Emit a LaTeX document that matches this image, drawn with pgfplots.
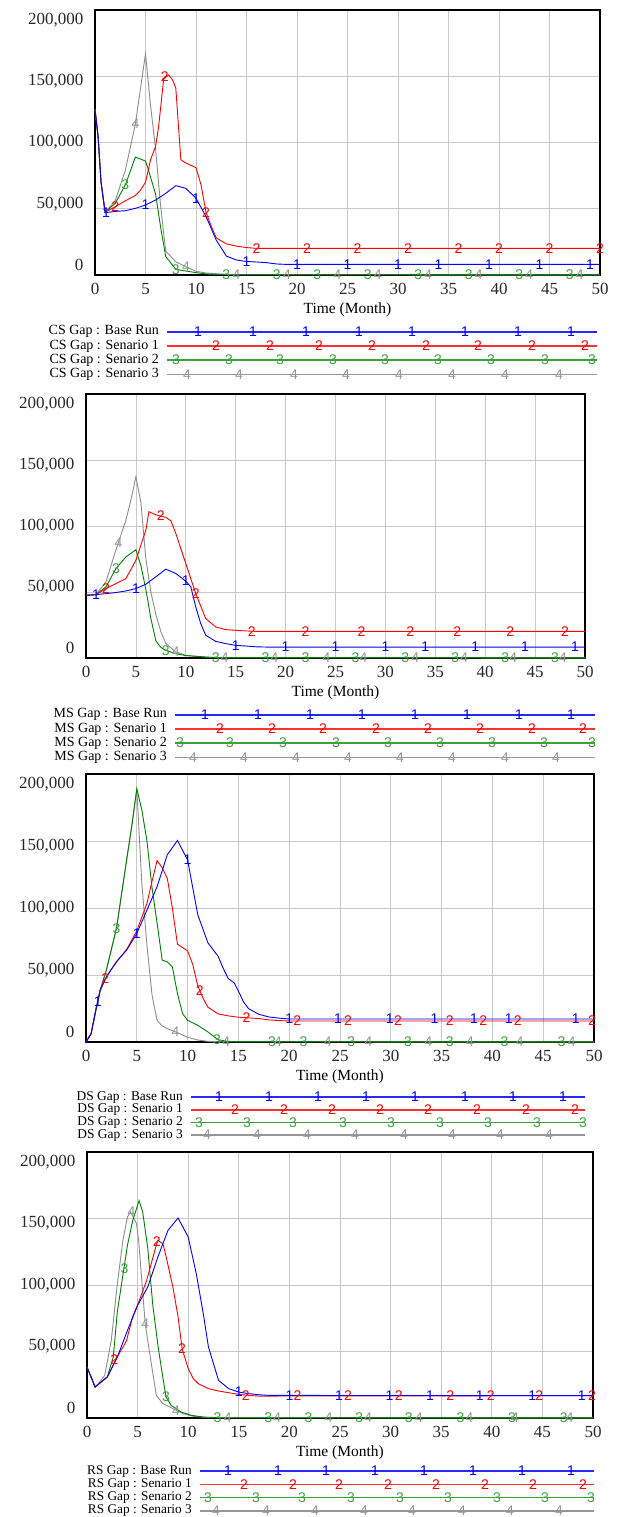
\documentclass[border=0pt]{standalone}
\usepackage{fontspec}
\setmainfont{Liberation Serif}
\newfontfamily\mkfont{Liberation Sans}
\usepackage{pgfplots}
\pgfplotsset{compat=1.18}
\usetikzlibrary{plotmarks}
\definecolor{vblue}{RGB}{0,0,255}
\definecolor{vred}{RGB}{255,0,0}
\definecolor{vgreen}{RGB}{0,128,0}
\definecolor{vgray}{RGB}{140,140,140}
\definecolor{lblue}{RGB}{40,40,255}
\definecolor{lred}{RGB}{255,50,50}
\definecolor{lgreen}{RGB}{60,160,60}
\definecolor{lgray}{RGB}{150,150,150}
\definecolor{gridc}{RGB}{200,200,200}
\definecolor{tickc}{RGB}{40,40,40}
\newcommand\tickf{\fontsize{17}{17}\selectfont}
\newcommand\timef{\fontsize{15.5}{15.5}\selectfont}
\newcommand\mkf{\mkfont\fontsize{14}{14}\selectfont}
\pgfplotsset{
  mainax/.style={
    scale only axis, xmin=0, xmax=50, ymin=0, ymax=200000,
    xtick={0,5,...,50}, ytick={0,50000,100000,150000,200000},
    scaled y ticks=false,
    /pgf/number format/fixed,
    /pgf/number format/1000 sep={,},
    /pgf/number format/assume math mode=true,
    grid=major, major grid style={draw=gridc, line width=0.8pt},
    axis line style={line width=2pt, black},
    major tick length=0pt,
    tick label style={font=\tickf, text=tickc},
    xticklabel style={yshift=-5pt},
    yticklabel style={xshift=-8pt, yshift={(2-\ticknum)*5pt}},
    xlabel={Time (Month)},
    xlabel style={font=\timef, at={(rel axis cs:0.5,0)}, anchor=center, yshift=-35pt},
    clip=false,
  },
  legax/.style={
    scale only axis, y dir=reverse, ymin=0.5, ymax=4.5, ytick={1,2,3,4},
    xtick=\empty, axis line style={draw=none}, major tick length=0pt, clip=false,
    yticklabel style={anchor=east, inner sep=0pt, xshift=-8pt},
  },
  pb/.style={vblue, line width=0.9pt},
  pr/.style={vred, line width=0.9pt},
  pg/.style={vgreen, line width=0.9pt},
  pk/.style={vgray, line width=0.9pt},
  m1/.style={only marks, mark=text, text mark={1}, text mark as node=true, text mark style={font=\mkf, text=vblue, inner sep=0pt}},
  m2/.style={only marks, mark=text, text mark={2}, text mark as node=true, text mark style={font=\mkf, text=vred, inner sep=0pt}},
  m3/.style={only marks, mark=text, text mark={3}, text mark as node=true, text mark style={font=\mkf, text=lgreen, inner sep=0pt}},
  m4/.style={only marks, mark=text, text mark={4}, text mark as node=true, text mark style={font=\mkf, text=lgray, inner sep=0pt}},
  lb/.style={lblue, line width=1.6pt},
  lr/.style={lred, line width=1.6pt},
  lg/.style={lgreen, line width=1.6pt},
  lk/.style={lgray, line width=1.6pt},
}
\begin{document}
\begin{tikzpicture}
\useasboundingbox (0,0) rectangle (618pt,-1517pt);

% ---------------- Panel 1: CS Gap ----------------
\begin{axis}[mainax, at={(95pt,-275pt)}, anchor=south west, width=505pt, height=265pt]
\addplot[pk] coordinates {(0,125000)(0.3,105000)(0.6,70000)(1,47500)(2,56000)(3,79000)(4,114000)(5,167000)(5.5,128000)(6,95000)(6.5,52000)(7,18000)(8,10000)(9,6300)(10,2800)(11,1500)(12,1000)(13,500)(14,200)(50,100)};
\addplot[pg] coordinates {(0,125000)(0.3,105000)(0.6,70000)(1,47500)(2,54000)(3,68000)(4,89000)(5,86000)(5.3,79000)(6,61000)(6.5,36000)(7,14000)(8,4300)(9,3000)(10,1800)(11,800)(12,400)(13,200)(50,100)};
\addplot[pr] coordinates {(0,125000)(0.3,105000)(0.6,70000)(1,47500)(2,51500)(3,56000)(4,60000)(4.5,64000)(5,70000)(5.5,87000)(6,97000)(6.3,112000)(6.8,148000)(7.3,151000)(7.7,147000)(8,141000)(8.5,87000)(9,84500)(10,81000)(10.5,68000)(11,47000)(11.5,37000)(12,28000)(13,23500)(14,21800)(15,20700)(16,20100)(50,20100)};
\addplot[pb] coordinates {(0,125000)(0.3,105000)(0.6,70000)(1,47000)(2,48000)(3,48500)(4,50300)(5,52800)(6,56600)(7,61600)(8,67400)(9,65400)(10,57900)(11,44000)(12,26400)(13,14300)(14,11300)(15,10200)(16,9800)(17,9300)(18,8300)(19,8000)(50,8000)};
\addplot[m4] coordinates {(4,114000)(9,6300)(14,200)(19,100)(24,100)(28,100)(33,100)(38,100)(43,100)(48,100)};
\addplot[m3] coordinates {(3,68000)(8,4300)(13,200)(18,100)(22,100)(27,100)(32,100)(37,100)(42,100)(47,100)};
\addplot[m2] coordinates {(2,51500)(6.9,150000)(11,47000)(16,20100)(21,20100)(26,20100)(31,20100)(36,20100)(40,20100)(45,20100)(50,20100)};
\addplot[m1] coordinates {(1.1,47200)(5,52800)(10,57900)(15,10200)(20,8000)(25,8000)(30,8000)(34,8000)(39,8000)(44,8000)(49,8000)};
\end{axis}
\begin{axis}[legax, at={(167pt,-324.6pt)}, anchor=north west, width=430pt, height=56.8pt, xmin=167, xmax=597,
  yticklabel style={font=\fontsize{14}{14}\selectfont},
  yticklabels={CS Gap : Base Run, CS Gap : Senario 1, CS Gap : Senario 2, CS Gap : Senario 3}]
\addplot[lb] coordinates {(167,1)(597,1)};
\addplot[lr] coordinates {(167,2)(597,2)};
\addplot[lg] coordinates {(167,3)(597,3)};
\addplot[lk] coordinates {(167,4)(597,4)};
\addplot[m1] coordinates {(198,1)(253,1)(306,1)(359,1)(412,1)(465,1)(518,1)(571,1)};
\addplot[m2] coordinates {(216,2)(270,2)(319,2)(372,2)(426,2)(478,2)(532,2)(585,2)};
\addplot[m3] coordinates {(176,3)(229,3)(280,3)(333,3)(385,3)(438,3)(491,3)(545,3)(592,3)};
\addplot[m4] coordinates {(187,4)(239,4)(294,4)(346,4)(399,4)(452,4)(505,4)(559,4)};
\end{axis}

% ---------------- Panel 2: MS Gap ----------------
\begin{axis}[mainax, at={(86pt,-658pt)}, anchor=south west, width=499pt, height=264pt]
\addplot[pk] coordinates {(0,47500)(1,48000)(2,57700)(3,82000)(4,104400)(4.5,119600)(5,137300)(5.5,118000)(6,75000)(6.5,50000)(7,33000)(7.5,20000)(8,11000)(9,4600)(10,2000)(11,1300)(12,750)(13,300)(50,100)};
\addplot[pg] coordinates {(0,47500)(1,48000)(2,53900)(3,67800)(4,76600)(5,82000)(5.5,70000)(6,52000)(6.5,30000)(7,13000)(7.5,8000)(8,5800)(9,3300)(10,1800)(11,1300)(12,750)(13,300)(50,100)};
\addplot[pr] coordinates {(0,47500)(1,48000)(2,52600)(3,56400)(4,60200)(5,74100)(6,96900)(6.3,110800)(7,108500)(8,106500)(8.5,104000)(9,94300)(10,71600)(11,48800)(12,29800)(13,23500)(14,21500)(15,21000)(16,20500)(17,20200)(50,20200)};
\addplot[pb] coordinates {(0,47500)(1,48000)(2,48800)(3,49600)(4,50800)(5,52600)(6,55900)(7,61500)(8,67300)(9,64000)(10,58200)(10.5,54000)(11,38700)(11.5,26000)(12,17200)(13,12600)(14,10900)(15,9600)(16,9100)(17,8500)(18,8300)(50,8300)};
\addplot[m4] coordinates {(3.25,87500)(9,4600)(13.9,300)(18.9,100)(24.1,100)(27.8,100)(33,100)(37.9,100)(42.8,100)(47.8,100)};
\addplot[m3] coordinates {(3,67800)(8,5800)(13,300)(18,100)(22,100)(27,100)(32,100)(37,100)(42,100)(47,100)};
\addplot[m2] coordinates {(2,52600)(7.5,107500)(11,48800)(16.6,20300)(22,20200)(27.6,20200)(32.5,20200)(37.2,20200)(42.5,20200)(48,20200)};
\addplot[m1] coordinates {(1,48000)(5,52600)(10,58200)(15,9600)(20,8300)(25,8300)(30,8300)(34,8300)(39,8300)(44,8300)(49,8300)};
\end{axis}
\begin{axis}[legax, at={(175pt,-707.6pt)}, anchor=north west, width=420pt, height=56.8pt, xmin=175, xmax=595,
  yticklabel style={font=\fontsize{14}{14}\selectfont},
  yticklabels={MS Gap : Base Run, MS Gap : Senario 1, MS Gap : Senario 2, MS Gap : Senario 3}]
\addplot[lb] coordinates {(175,1)(595,1)};
\addplot[lr] coordinates {(175,2)(595,2)};
\addplot[lg] coordinates {(175,3)(595,3)};
\addplot[lk] coordinates {(175,4)(595,4)};
\addplot[m1] coordinates {(205,1)(258,1)(310,1)(362,1)(415,1)(467,1)(519,1)(571,1)};
\addplot[m2] coordinates {(220,2)(272,2)(323,2)(376,2)(428,2)(480,2)(532,2)(583,2)};
\addplot[m3] coordinates {(180,3)(230,3)(283,3)(336,3)(388,3)(440,3)(492,3)(544,3)(592,3)};
\addplot[m4] coordinates {(193,4)(244,4)(296,4)(348,4)(400,4)(452,4)(505,4)(556,4)};
\end{axis}

% ---------------- Panel 3: DS Gap ----------------
\begin{axis}[mainax, at={(86pt,-1042pt)}, anchor=south west, width=508pt, height=268pt]
\addplot[pk] coordinates {(0,0)(0.5,6200)(1,25000)(1.4,38700)(2,53600)(3,84800)(4,135900)(4.5,160900)(5,189000)(5.2,160000)(5.5,118000)(6,72000)(6.5,35000)(7,16000)(7.5,12000)(8,10000)(9,7000)(10,3500)(11,1500)(12,500)(13,200)(50,100)};
\addplot[pg] coordinates {(0,0)(0.5,6200)(1,25000)(1.4,38700)(2,53600)(3,84800)(4,135900)(4.5,160900)(5,189000)(5.5,173000)(6,150000)(6.5,115000)(7,88500)(7.5,61100)(8,59900)(8.5,56100)(9,36200)(9.5,21200)(10,16200)(11,12500)(12,7500)(13,1700)(14,500)(15,200)(50,100)};
\addplot[pr] coordinates {(0,0)(0.5,6200)(1,25000)(1.4,38700)(2,48600)(3,59900)(4,69000)(5,83000)(6,103500)(6.5,120000)(7,135400)(7.5,130000)(8,122200)(8.5,100000)(9,73000)(10,68000)(10.5,58000)(11,42000)(11.5,33000)(12,26000)(13,21000)(14,19500)(15,18500)(16,18000)(17,17500)(18,16500)(19,16000)(20,15700)(50,15700)};
\addplot[pb] coordinates {(0,0)(0.5,6200)(1,25000)(1.4,38700)(2,48600)(3,59900)(4,68600)(5,81000)(6,98500)(7,116000)(8,139700)(9,150400)(10,135900)(11,95000)(12,74000)(13,64000)(13.5,55000)(14,47400)(14.6,44000)(15,38000)(15.5,30000)(16,24900)(17,20700)(18,18700)(19,17800)(20,17200)(50,17200)};
\addplot[m4] coordinates {(8.8,7700)(13.8,100)(18.9,100)(23.8,100)(27.8,100)(33.7,100)(37.8,100)(42.7,100)(47.8,100)};
\addplot[m3] coordinates {(3,84800)(12.9,2000)(18.3,100)(21.4,100)(26.1,100)(31.7,100)(35.8,100)(41.2,100)(46.8,100)};
\addplot[m2] coordinates {(1.9,47000)(11.2,38000)(15.8,18100)(20.8,15700)(25.8,15700)(30.7,15700)(35.8,15700)(39.1,15700)(42.5,15700)(49.8,15700)};
\addplot[m1] coordinates {(1.15,30000)(5,81000)(10,135900)(20,17200)(24.8,17200)(29.9,17200)(34.3,17200)(38.2,17200)(41.6,17200)(48.2,17200)};
\end{axis}
\begin{axis}[legax, at={(191pt,-1090.65pt)}, anchor=north west, width=394pt, height=50.8pt, xmin=191, xmax=585,
  yticklabel style={font=\fontsize{13.4}{13.4}\selectfont},
  yticklabels={DS Gap : Base Run, DS Gap : Senario 1, DS Gap : Senario 2, DS Gap : Senario 3}]
\addplot[lb] coordinates {(191,1)(585,1)};
\addplot[lr] coordinates {(191,2)(585,2)};
\addplot[lg] coordinates {(191,3)(585,3)};
\addplot[lk] coordinates {(191,4)(585,4)};
\addplot[m1] coordinates {(219,1)(269,1)(318,1)(366,1)(415,1)(465,1)(513,1)(563,1)};
\addplot[m2] coordinates {(235,2)(284,2)(332,2)(380,2)(428,2)(477,2)(526,2)(575,2)};
\addplot[m3] coordinates {(199,3)(247,3)(293,3)(343,3)(391,3)(440,3)(488,3)(537,3)(583,3)};
\addplot[m4] coordinates {(207,4)(257,4)(307,4)(355,4)(404,4)(452,4)(500,4)(549,4)};
\end{axis}

% ---------------- Panel 4: RS Gap ----------------
\begin{axis}[mainax, at={(87pt,-1418pt)}, anchor=south west, width=506pt, height=266pt]
\addplot[pk] coordinates {(0,38300)(0.8,23300)(1,24600)(1.75,32000)(2.4,58400)(3,101000)(3.55,133600)(4,151100)(4.3,155000)(4.9,146000)(5.1,133600)(5.75,71000)(6.2,48400)(6.85,17000)(7.5,10800)(8.5,7000)(9.5,3300)(10.5,1300)(12,300)(50,100)};
\addplot[pg] coordinates {(0,38300)(0.8,23300)(1,24600)(2,30800)(2.6,46000)(3,80000)(3.5,105000)(4,130000)(4.5,148000)(5,160000)(5.15,163500)(5.5,155000)(6,128000)(6.5,85000)(7,55000)(7.3,40000)(7.8,16000)(8.3,9500)(9.3,4500)(10.3,2000)(11.5,750)(13,200)(50,100)};
\addplot[pr] coordinates {(0,38300)(0.8,23300)(1,24600)(2,30800)(3,46000)(3.9,58000)(4.5,76000)(5,85000)(5.9,103500)(6.7,126000)(7,133600)(7.5,131000)(7.8,122000)(8.5,98000)(9,76000)(9.4,52100)(10,37100)(10.5,29600)(11,25800)(12,22100)(13,20300)(14,19000)(15,17800)(16,17000)(17,16500)(50,16800)};
\addplot[pb] coordinates {(0,38300)(0.8,23300)(1,24600)(2,30800)(3,45900)(4,65900)(5,84700)(6,98500)(7,121000)(8,141100)(9,150400)(10,136100)(10.8,108500)(11.5,78000)(12,53400)(13,28300)(14,22100)(15,19500)(16,18300)(17,17500)(18,17000)(50,16800)};
\addplot[m4] coordinates {(4.4,155000)(5.75,71000)(8.8,5500)(13.9,100)(18.8,100)(23.9,100)(27.8,100)(32.8,100)(37.8,100)(42.3,100)(47.7,100)};
\addplot[m3] coordinates {(3.7,112000)(7.8,16000)(12.9,200)(17.9,100)(21.9,100)(26.9,100)(31.8,100)(36.9,100)(42,100)(47.1,100)};
\addplot[m2] coordinates {(2.7,44000)(6.9,133000)(9.4,52100)(15.7,17200)(20.8,16800)(25.8,16800)(30.8,16800)(35.9,16800)(39.9,16800)(44.7,16800)(49.9,16800)};
\addplot[m1] coordinates {(15,19500)(20,16800)(24.9,16800)(29.9,16800)(33.9,16800)(38.8,16800)(44,16800)(48.9,16800)};
\end{axis}
\begin{axis}[legax, at={(200pt,-1464.4pt)}, anchor=north west, width=394pt, height=53.2pt, xmin=200, xmax=594,
  yticklabel style={font=\fontsize{13.3}{13.3}\selectfont},
  yticklabels={RS Gap : Base Run, RS Gap : Senario 1, RS Gap : Senario 2, RS Gap : Senario 3}]
\addplot[lb] coordinates {(200,1)(594,1)};
\addplot[lr] coordinates {(200,2)(594,2)};
\addplot[lg] coordinates {(200,3)(594,3)};
\addplot[lk] coordinates {(200,4)(594,4)};
\addplot[m1] coordinates {(228,1)(278,1)(326,1)(375,1)(424,1)(473,1)(522,1)(571,1)};
\addplot[m2] coordinates {(244,2)(293,2)(339,2)(388,2)(436,2)(485,2)(533,2)(583,2)};
\addplot[m3] coordinates {(208,3)(256,3)(302,3)(351,3)(400,3)(448,3)(497,3)(545,3)(591,3)};
\addplot[m4] coordinates {(216,4)(266,4)(315,4)(364,4)(412,4)(462,4)(510,4)(559,4)};
\end{axis}
\end{tikzpicture}
\end{document}
